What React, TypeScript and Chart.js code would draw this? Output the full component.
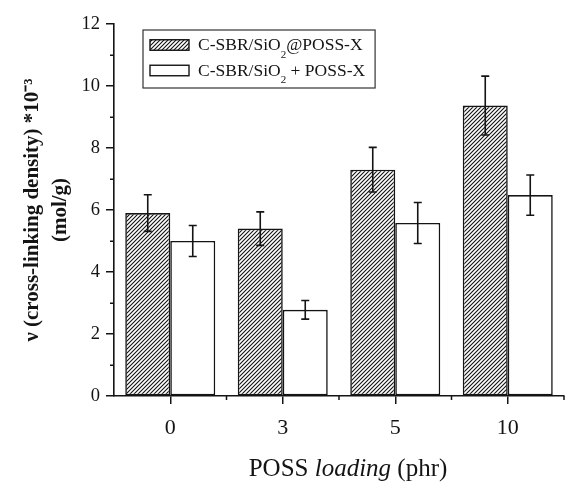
import { useEffect, useRef } from 'react';
import { Chart, registerables } from 'chart.js';

Chart.register(...registerables);

const categories = ['0', '3', '5', '10'];
const seriesLabels = ['C-SBR/SiO₂@POSS-X', 'C-SBR/SiO₂ + POSS-X'];
const graftedValues = [5.9, 5.4, 7.3, 9.37];
const graftedErrors = [0.59, 0.54, 0.72, 0.95];
const blendValues = [5.0, 2.78, 5.58, 6.48];
const blendErrors = [0.5, 0.3, 0.66, 0.65];
const yMin = 0;
const yMax = 12;
const yStep = 2;
const yMinorValues = [1, 3, 5, 7, 9, 11];
const yTitleLines = ['ν (cross-linking density) *10⁻³', '(mol/g)'];
const xTitleParts = [
  { text: 'POSS ', italic: false },
  { text: 'loading', italic: true },
  { text: ' (phr)', italic: false },
];

const SERIF = '"Liberation Serif", "Times New Roman", serif';
const INK = '#141414';

function makeHatch(): CanvasPattern | string {
  const s = 4;
  const c = document.createElement('canvas');
  c.width = s;
  c.height = s;
  const g = c.getContext('2d');
  if (!g) return '#888';
  g.fillStyle = '#ffffff';
  g.fillRect(0, 0, s, s);
  g.strokeStyle = '#111';
  g.lineWidth = 1.1;
  g.beginPath();
  g.moveTo(0, s);
  g.lineTo(s, 0);
  g.moveTo(-1, 1);
  g.lineTo(1, -1);
  g.moveTo(s - 1, s + 1);
  g.lineTo(s + 1, s - 1);
  g.stroke();
  return g.createPattern(c, 'repeat') || '#888';
}

function drawWithSub(ctx: CanvasRenderingContext2D, text: string, x: number, y: number, size: number) {
  const parts = text.split('₂');
  let cx = x;
  parts.forEach((p, i) => {
    if (i > 0) {
      ctx.font = `${Math.round(size * 0.62)}px ${SERIF}`;
      ctx.fillText('2', cx, y + size * 0.45);
      cx += ctx.measureText('2').width;
    }
    ctx.font = `${size}px ${SERIF}`;
    ctx.fillText(p, cx, y);
    cx += ctx.measureText(p).width;
  });
  return cx - x;
}

const errorBarsPlugin = {
  id: 'errorBars',
  afterDatasetsDraw(chart: any) {
    const ctx: CanvasRenderingContext2D = chart.ctx;
    const yScale = chart.scales.y;
    ctx.save();
    ctx.strokeStyle = INK;
    ctx.lineWidth = 1.6;
    chart.data.datasets.forEach((ds: any, di: number) => {
      const meta = chart.getDatasetMeta(di);
      meta.data.forEach((bar: any, i: number) => {
        const v = ds.data[i];
        const e = ds.errors[i];
        const top = yScale.getPixelForValue(v + e);
        const bot = yScale.getPixelForValue(v - e);
        const x = bar.x;
        const cap = 4;
        ctx.beginPath();
        ctx.moveTo(x, top);
        ctx.lineTo(x, bot);
        ctx.moveTo(x - cap, top);
        ctx.lineTo(x + cap, top);
        ctx.moveTo(x - cap, bot);
        ctx.lineTo(x + cap, bot);
        ctx.stroke();
      });
    });
    ctx.restore();
  },
};

const minorTicksPlugin = {
  id: 'minorTicks',
  afterDraw(chart: any) {
    const ctx: CanvasRenderingContext2D = chart.ctx;
    const { left, bottom } = chart.chartArea;
    const yScale = chart.scales.y;
    const xScale = chart.scales.x;
    ctx.save();
    ctx.strokeStyle = INK;
    ctx.lineWidth = 1.5;
    ctx.beginPath();
    yMinorValues.forEach((v) => {
      const py = Math.round(yScale.getPixelForValue(v)) + 0.25;
      ctx.moveTo(left - 4, py);
      ctx.lineTo(left, py);
    });
    for (let i = 1; i <= categories.length; i++) {
      const px = xScale.getPixelForValue(i - 0.5);
      ctx.moveTo(px, bottom);
      ctx.lineTo(px, bottom + 4);
    }
    ctx.stroke();
    ctx.restore();
  },
};

const legendPlugin = {
  id: 'boxLegend',
  afterDraw(chart: any) {
    const ctx: CanvasRenderingContext2D = chart.ctx;
    const { left, top } = chart.chartArea;
    const boxX = left + 29;
    const boxY = top + 6;
    const size = 17.5;
    const swW = 39;
    const swH = 10.5;
    const textX = boxX + 55;
    const rowH = 25.5;
    ctx.save();
    ctx.textBaseline = 'alphabetic';
    ctx.textAlign = 'left';
    ctx.fillStyle = INK;
    let maxW = 0;
    chart.data.datasets.forEach((ds: any, i: number) => {
      const base = boxY + 20 + i * rowH;
      const w = drawWithSub(ctx, ds.label, textX, base, size);
      maxW = Math.max(maxW, w);
      ctx.fillStyle = ds.backgroundColor;
      ctx.fillRect(boxX + 7, base - 7 - swH / 2 + 2, swW, swH);
      ctx.strokeStyle = INK;
      ctx.lineWidth = 1.4;
      ctx.strokeRect(boxX + 7, base - 7 - swH / 2 + 2, swW, swH);
      ctx.fillStyle = INK;
    });
    ctx.strokeStyle = '#333';
    ctx.lineWidth = 1.2;
    ctx.strokeRect(boxX, boxY, textX - boxX + maxW + 10, 58);
    ctx.restore();
  },
};

function xTitlePartsWidths(ctx: CanvasRenderingContext2D, fontFor: (it: boolean) => string) {
  return xTitleParts.map((p) => {
    ctx.font = fontFor(p.italic);
    return ctx.measureText(p.text).width;
  });
}

const xTitlePlugin = {
  id: 'xTitle',
  afterDraw(chart: any) {
    const ctx: CanvasRenderingContext2D = chart.ctx;
    const { left, right } = chart.chartArea;
    const size = 25;
    ctx.save();
    ctx.fillStyle = INK;
    ctx.textBaseline = 'alphabetic';
    ctx.textAlign = 'left';
    const fontFor = (it: boolean) => `${it ? 'italic ' : ''}${size}px ${SERIF}`;
    let total = 0;
    xTitlePartsWidths(ctx, fontFor).forEach((w) => (total += w));
    let x = (left + right) / 2 + 9 - total / 2;
    xTitleParts.forEach((p) => {
      ctx.font = fontFor(p.italic);
      ctx.fillText(p.text, x, 476);
      x += ctx.measureText(p.text).width;
    });
    ctx.restore();
  },
};

export default function App() {
  const ref = useRef<HTMLCanvasElement | null>(null);

  useEffect(() => {
    if (!ref.current) return;
    const hatch = makeHatch();
    const chart = new Chart(ref.current, {
      type: 'bar',
      data: {
        labels: categories,
        datasets: [
          {
            label: seriesLabels[0],
            data: graftedValues,
            errors: graftedErrors,
            backgroundColor: hatch,
            borderColor: INK,
            borderWidth: 1.6,
            borderSkipped: false,
            categoryPercentage: 0.8,
            barPercentage: 1.0,
          } as any,
          {
            label: seriesLabels[1],
            data: blendValues,
            errors: blendErrors,
            backgroundColor: '#ffffff',
            borderColor: INK,
            borderWidth: 1.6,
            borderSkipped: false,
            categoryPercentage: 0.8,
            barPercentage: 1.0,
          } as any,
        ],
      },
      options: {
        responsive: false,
        animation: false,
        layout: { padding: { top: 24, right: 1, left: 0, bottom: 0 } },
        plugins: {
          legend: { display: false },
          tooltip: { enabled: false },
        },
        scales: {
          x: {
            offset: true,
            grid: {
              offset: false,
              drawOnChartArea: false,
              tickLength: 8,
              color: INK,
              lineWidth: 1.5,
            },
            border: { color: INK, width: 1.6 },
            ticks: {
              font: { family: SERIF, size: 22 },
              color: INK,
              padding: 11,
              maxRotation: 0,
              autoSkip: false,
            },
            afterFit: (s: any) => {
              s.height = 86;
            },
          },
          y: {
            min: yMin,
            max: yMax,
            grid: {
              drawOnChartArea: false,
              tickLength: 8,
              color: INK,
              lineWidth: 1.5,
            },
            border: { color: INK, width: 1.6 },
            ticks: {
              stepSize: yStep,
              font: { family: SERIF, size: 18.5 },
              color: INK,
              padding: 6,
            },
            title: {
              display: true,
              text: yTitleLines,
              font: { family: SERIF, size: 21, weight: 'bold', lineHeight: 1.33 },
              color: INK,
              padding: { top: 19, bottom: 0 },
            },
            afterFit: (s: any) => {
              s.width = 114;
            },
          },
        },
      },
      plugins: [errorBarsPlugin, minorTicksPlugin, legendPlugin, xTitlePlugin],
    } as any);
    return () => chart.destroy();
  }, []);

  return (
    <canvas
      ref={ref}
      width={565}
      height={482}
      style={{ position: 'absolute', left: 0, top: 0, width: 565, height: 482 }}
    />
  );
}
